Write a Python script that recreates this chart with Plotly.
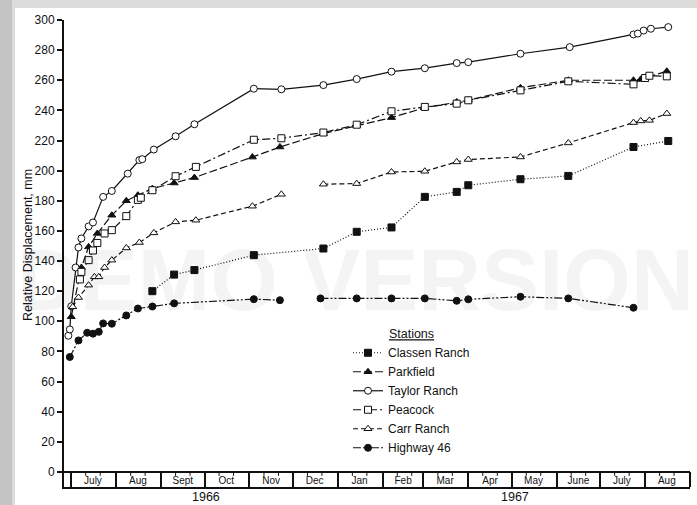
import plotly.graph_objects as go

# ---------------- data ----------------
classen_dates = ["1966-08-26", "1966-09-10", "1966-09-24", "1966-11-04", "1966-12-22",
                 "1967-01-14", "1967-02-07", "1967-03-02", "1967-03-24", "1967-04-01",
                 "1967-05-07", "1967-06-09", "1967-07-24", "1967-08-17"]
classen_vals = [120, 131, 134, 143.9, 148.3, 159.4, 162.3, 182.6, 185.9, 190.3,
                194.3, 196.5, 215.7, 219.7]

parkfield_dates = ["1966-07-01", "1966-07-08", "1966-07-13", "1966-07-19", "1966-07-29",
                   "1966-08-08", "1966-08-16", "1966-08-26", "1966-09-10", "1966-09-24",
                   "1966-11-03", "1966-11-22", "1966-12-22", "1967-01-14", "1967-02-07",
                   "1967-03-02", "1967-03-24", "1967-04-01", "1967-05-07", "1967-06-09",
                   "1967-07-24", "1967-07-29", "1967-08-16"]
parkfield_vals = [103, 135.7, 149.4, 158.3, 170.4, 180, 183.7, 188.1, 191.8, 195.4,
                  209, 215.7, 224.6, 230, 235.2, 241.8, 245.6, 246.7, 255, 260,
                  260, 260.6, 266]

taylor_dates = ["1966-06-29", "1966-06-30", "1966-07-01", "1966-07-04", "1966-07-06",
                "1966-07-08", "1966-07-13", "1966-07-16", "1966-07-23", "1966-07-29",
                "1966-08-09", "1966-08-17", "1966-08-19", "1966-08-27", "1966-09-11",
                "1966-09-24", "1966-11-04", "1966-11-23", "1966-12-22", "1967-01-14",
                "1967-02-07", "1967-03-02", "1967-03-24", "1967-04-01", "1967-05-07",
                "1967-06-10", "1967-07-24", "1967-07-27", "1967-07-31", "1967-08-05",
                "1967-08-17"]
taylor_vals = [90.4, 94.6, 110, 135.7, 149, 155, 163, 165.6, 182.6, 186.5,
               198, 207, 207.6, 214, 222.8, 230.8, 254.4, 254, 256.8, 260.8,
               265.7, 268, 271.4, 272, 277.6, 282, 290.4, 291, 293, 294.2, 295.3]

peacock_dates = ["1966-07-07", "1966-07-08", "1966-07-13", "1966-07-16", "1966-07-19",
                 "1966-07-24", "1966-07-29", "1966-08-08", "1966-08-16", "1966-08-18",
                 "1966-08-26", "1966-09-11", "1966-09-25", "1966-11-04", "1966-11-23",
                 "1966-12-22", "1967-01-14", "1967-02-07", "1967-03-02", "1967-03-24",
                 "1967-04-01", "1967-05-07", "1967-06-09", "1967-07-24", "1967-08-01",
                 "1967-08-04", "1967-08-16"]
peacock_vals = [127.8, 132.8, 140.6, 147, 152, 158.3, 160.5, 169.8, 180.6, 182,
                187, 196.3, 202.5, 220.5, 221.5, 225.3, 230.5, 239.4, 242.3, 244.5,
                246.7, 253.3, 259.3, 257.3, 261.5, 263, 262.6]

carr_dates = ["1966-07-02", "1966-07-06", "1966-07-13", "1966-07-17", "1966-07-20",
              "1966-07-24", "1966-07-29", "1966-08-08", "1966-08-17", "1966-08-27",
              "1966-09-11", "1966-09-25", "1966-11-03", "1966-11-23", "1966-12-07",
              "1966-12-22", "1967-01-14", "1967-02-07", "1967-03-02", "1967-03-24",
              "1967-04-01", "1967-05-07", "1967-06-09", "1967-07-24", "1967-07-29",
              "1967-08-04", "1967-08-16"]
carr_vals = [109.6, 115.8, 124, 129.5, 129.5, 135.7, 140.6, 148.7, 152.3, 158.7,
             166, 167.1, 176.4, 184.3, None, 191, 191.4, 199.1, 199.6, 205.8,
             207.4, 209.1, 218.4, 231.9, 233, 233.4, 237.9]

highway_dates = ["1966-06-30", "1966-07-06", "1966-07-12", "1966-07-16", "1966-07-20",
                 "1966-07-23", "1966-07-29", "1966-08-08", "1966-08-16", "1966-08-26",
                 "1966-09-10", "1966-11-04", "1966-11-22", "1966-12-07", "1966-12-20",
                 "1967-01-14", "1967-02-07", "1967-03-02", "1967-03-24", "1967-04-01",
                 "1967-05-07", "1967-06-09", "1967-07-24"]
highway_vals = [76.3, 87.3, 92.4, 91.8, 93, 98.6, 98.4, 103.9, 108.5, 109.8,
                111.9, 114.7, 114, None, 115.2, 115.2, 115.2, 115.2, 113.6, 114.6,
                116.3, 115.2, 109]

month_starts = ["1966-07-01", "1966-08-01", "1966-09-01", "1966-10-01", "1966-11-01",
                "1966-12-01", "1967-01-01", "1967-02-01", "1967-03-01", "1967-04-01",
                "1967-05-01", "1967-06-01", "1967-07-01", "1967-08-01", "1967-09-01"]
month_mids = ["1966-07-16", "1966-08-16", "1966-09-16", "1966-10-16", "1966-11-16",
              "1966-12-16", "1967-01-16", "1967-02-15", "1967-03-16", "1967-04-16",
              "1967-05-16", "1967-06-16", "1967-07-16", "1967-08-16"]
month_labels = ["July", "Aug", "Sept", "Oct", "Nov", "Dec", "Jan", "Feb", "Mar",
                "Apr", "May", "June", "July", "Aug"]
year_labels = ["1966", "1967"]
year_pos = ["1966-10-02", "1967-05-03"]
y_ticks = list(range(0, 301, 20))
x_range = ["1966-06-26", "1967-09-01"]

# ---------------- layout geometry ----------------
W, H = 697, 505
L, R, T, B = 64, 7, 20, 18
PW, PH = W - L - R, H - T - B


def pxx(x):
    return (x - L) / PW


def pxy(y):
    return (H - B - y) / PH


FONT = "Liberation Sans, Arial, sans-serif"
INK = "#111111"

series = [
    ("Classen Ranch", classen_dates, classen_vals, "square", INK, "1px,2px"),
    ("Parkfield", parkfield_dates, parkfield_vals, "triangle-up", INK, "8px,3px"),
    ("Taylor Ranch", taylor_dates, taylor_vals, "circle", "white", "solid"),
    ("Peacock", peacock_dates, peacock_vals, "square", "white", "8px,3px,2px,3px"),
    ("Carr Ranch", carr_dates, carr_vals, "triangle-up", "white", "5px,3px"),
    ("Highway 46", highway_dates, highway_vals, "circle", INK, "8px,2px,2px,2px,2px,2px"),
]

fig = go.Figure()
for name, xs, ys, sym, fill, dash in series:
    fig.add_trace(go.Scatter(
        x=xs, y=ys, name=name, mode="lines+markers", connectgaps=False,
        line=dict(color=INK, width=1.2, dash=dash),
        marker=dict(symbol=sym, size=7, color=fill, line=dict(color=INK, width=1)),
    ))

shapes = [
    # scanned page frame
    dict(type="rect", xref="paper", yref="paper", x0=pxx(0), x1=pxx(12),
         y0=pxy(H), y1=pxy(0), fillcolor="#c4c4c4", line=dict(width=0), layer="below"),
    dict(type="rect", xref="paper", yref="paper", x0=pxx(15), x1=pxx(W),
         y0=pxy(H), y1=pxy(8), fillcolor="white", line=dict(width=0), layer="below"),
]
# small ticks hanging from the month band top
for ms in month_starts[:-1]:
    for d in ("11", "21"):
        t = ms[:8] + d
        shapes.append(dict(type="line", xref="x", yref="y", x0=t, x1=t, y0=0, y1=-2.6,
                           line=dict(color=INK, width=1)))

annotations = [
    dict(text="DEMO VERSION", xref="paper", yref="paper", x=pxx(355), y=pxy(279),
         showarrow=False, font=dict(family="Liberation Sans, Arial", size=87,
                                    color="rgba(0,0,0,0.045)", weight="bold"),
         xanchor="center", yanchor="middle"),
    dict(text="Relative Displacement, mm", xref="paper", yref="paper",
         x=pxx(28), y=pxy(245), textangle=-90, showarrow=False,
         font=dict(family=FONT, size=12.5, color=INK), xanchor="center", yanchor="middle"),
]
for lab, pos in zip(year_labels, year_pos):
    annotations.append(dict(text=lab, xref="x", yref="paper", x=pos, y=pxy(497),
                            showarrow=False, font=dict(family=FONT, size=12.5, color=INK),
                            xanchor="center", yanchor="middle"))

fig.update_layout(
    width=W, height=H,
    margin=dict(l=L, r=R, t=T, b=B, pad=0, autoexpand=False),
    paper_bgcolor="#dcdcdc", plot_bgcolor="white",
    font=dict(family=FONT, color=INK),
    shapes=shapes, annotations=annotations,
    xaxis=dict(type="date", range=x_range, showgrid=False, zeroline=False, automargin=False,
               showline=True, linecolor=INK, linewidth=2,
               tickmode="array", tickvals=month_mids, ticktext=month_labels,
               ticks="", ticklabelposition="inside", tickfont=dict(size=10, color=INK),
               minor=dict(tickmode="array", tickvals=month_starts, ticks="inside",
                          ticklen=15, tickwidth=1.5, tickcolor=INK, showgrid=False)),
    yaxis=dict(range=[-10, 300], showgrid=False, tickmode="array", tickvals=y_ticks,
               automargin=False,
               ticks="outside", ticklen=5, tickwidth=1.5, tickcolor=INK,
               showline=True, linecolor=INK, linewidth=2,
               zeroline=True, zerolinecolor=INK, zerolinewidth=2,
               tickfont=dict(size=12, color=INK)),
    xaxis2=dict(type="date", range=x_range, overlaying="x", side="top", anchor="y",
                automargin=False,
                showgrid=False, zeroline=False, showline=True, linecolor=INK,
                linewidth=1.5, tickmode="array", tickvals=month_starts[1:-1],
                ticks="inside", ticklen=8, tickwidth=1.5, tickcolor=INK,
                showticklabels=False),
    yaxis2=dict(range=[-10, 300], overlaying="y", side="right", anchor="x",
                automargin=False,
                showgrid=False, zeroline=False, showline=True, linecolor=INK,
                linewidth=1.5, tickmode="array", tickvals=y_ticks[1:-1],
                ticks="inside", ticklen=7, tickwidth=1.5, tickcolor=INK,
                showticklabels=False),
    legend=dict(x=pxx(348), y=pxy(322), xanchor="left", yanchor="top",
                bgcolor="rgba(0,0,0,0)", borderwidth=0,
                font=dict(family=FONT, size=12, color=INK),
                title=dict(text="<u>Stations</u>", side="top center",
                           font=dict(family=FONT, size=12.5, color=INK)),
                itemwidth=30, tracegroupgap=0),
)

fig.write_html("out.html",
               config={"displayModeBar": False},
               post_script="document.body.style.margin='0px';"
                           "document.body.style.overflow='hidden';")
